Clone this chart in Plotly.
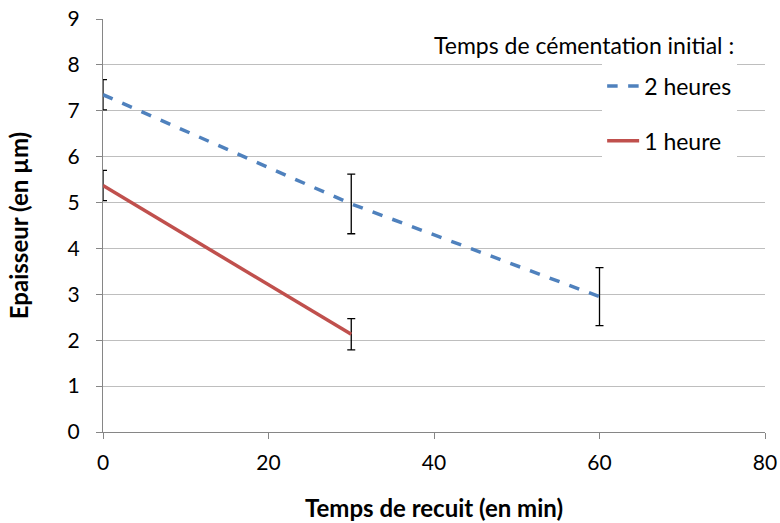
import plotly.graph_objects as go

# données
temps_2h = [0, 30, 60]
epaisseur_2h = [7.35, 4.97, 2.95]
erreur_2h = [0.33, 0.65, 0.63]

temps_1h = [0, 30]
epaisseur_1h = [5.37, 2.13]
erreur_1h = [0.33, 0.34]

FONT = "Lato"

fig = go.Figure()
fig.add_trace(
    go.Scatter(
        x=temps_2h,
        y=epaisseur_2h,
        name="2 heures",
        legendgroup="a",
        mode="lines",
        line=dict(color="#4F81BD", width=3.5, dash="dash"),
        error_y=dict(type="data", array=erreur_2h, color="black", thickness=1.3, width=4),
    )
)
fig.add_trace(
    go.Scatter(
        x=temps_1h,
        y=epaisseur_1h,
        name="1 heure",
        legendgroup="b",
        mode="lines",
        line=dict(color="#C0504D", width=3.5),
        error_y=dict(type="data", array=erreur_1h, color="black", thickness=1.3, width=4),
    )
)

fig.update_layout(
    width=780,
    height=523,
    margin=dict(l=103, r=15, t=19, b=91),
    plot_bgcolor="white",
    paper_bgcolor="white",
    font=dict(family=FONT, size=21, color="black"),
    legend=dict(
        x=0.754,
        y=0.89,
        xanchor="left",
        yanchor="top",
        bgcolor="white",
        tracegroupgap=22,
        font=dict(size=23),
        itemwidth=32,
    ),
    annotations=[
        dict(
            text="Temps de cémentation initial :",
            xref="paper",
            yref="paper",
            x=0.956,
            y=0.937,
            xanchor="right",
            yanchor="middle",
            showarrow=False,
            font=dict(size=23),
        )
    ],
)
fig.update_xaxes(
    range=[0, 80],
    dtick=20,
    automargin=False,
    showgrid=False,
    zeroline=False,
    showline=True,
    linecolor="#868686",
    ticks="outside",
    tickcolor="#868686",
    ticklen=6,
    ticklabelstandoff=6,
    ticklabeloverflow="allow",
    title=dict(text="<b>Temps de recuit (en min)</b>", font=dict(size=24), standoff=26),
)
fig.update_yaxes(
    range=[0, 9],
    dtick=1,
    automargin=False,
    showgrid=True,
    gridcolor="#BEBEBE",
    zeroline=False,
    showline=True,
    linecolor="#868686",
    ticks="outside",
    tickcolor="#868686",
    ticklen=6,
    ticklabelstandoff=12,
    ticklabeloverflow="allow",
    title=dict(text="<b>Epaisseur (en µm)</b>", font=dict(size=24), standoff=32),
)

# pas de marge de page autour de la figure, pas de barre d'outils
fig.write_html(
    "out.html",
    config={"displayModeBar": False},
    post_script="document.body.style.margin = '0';",
)
